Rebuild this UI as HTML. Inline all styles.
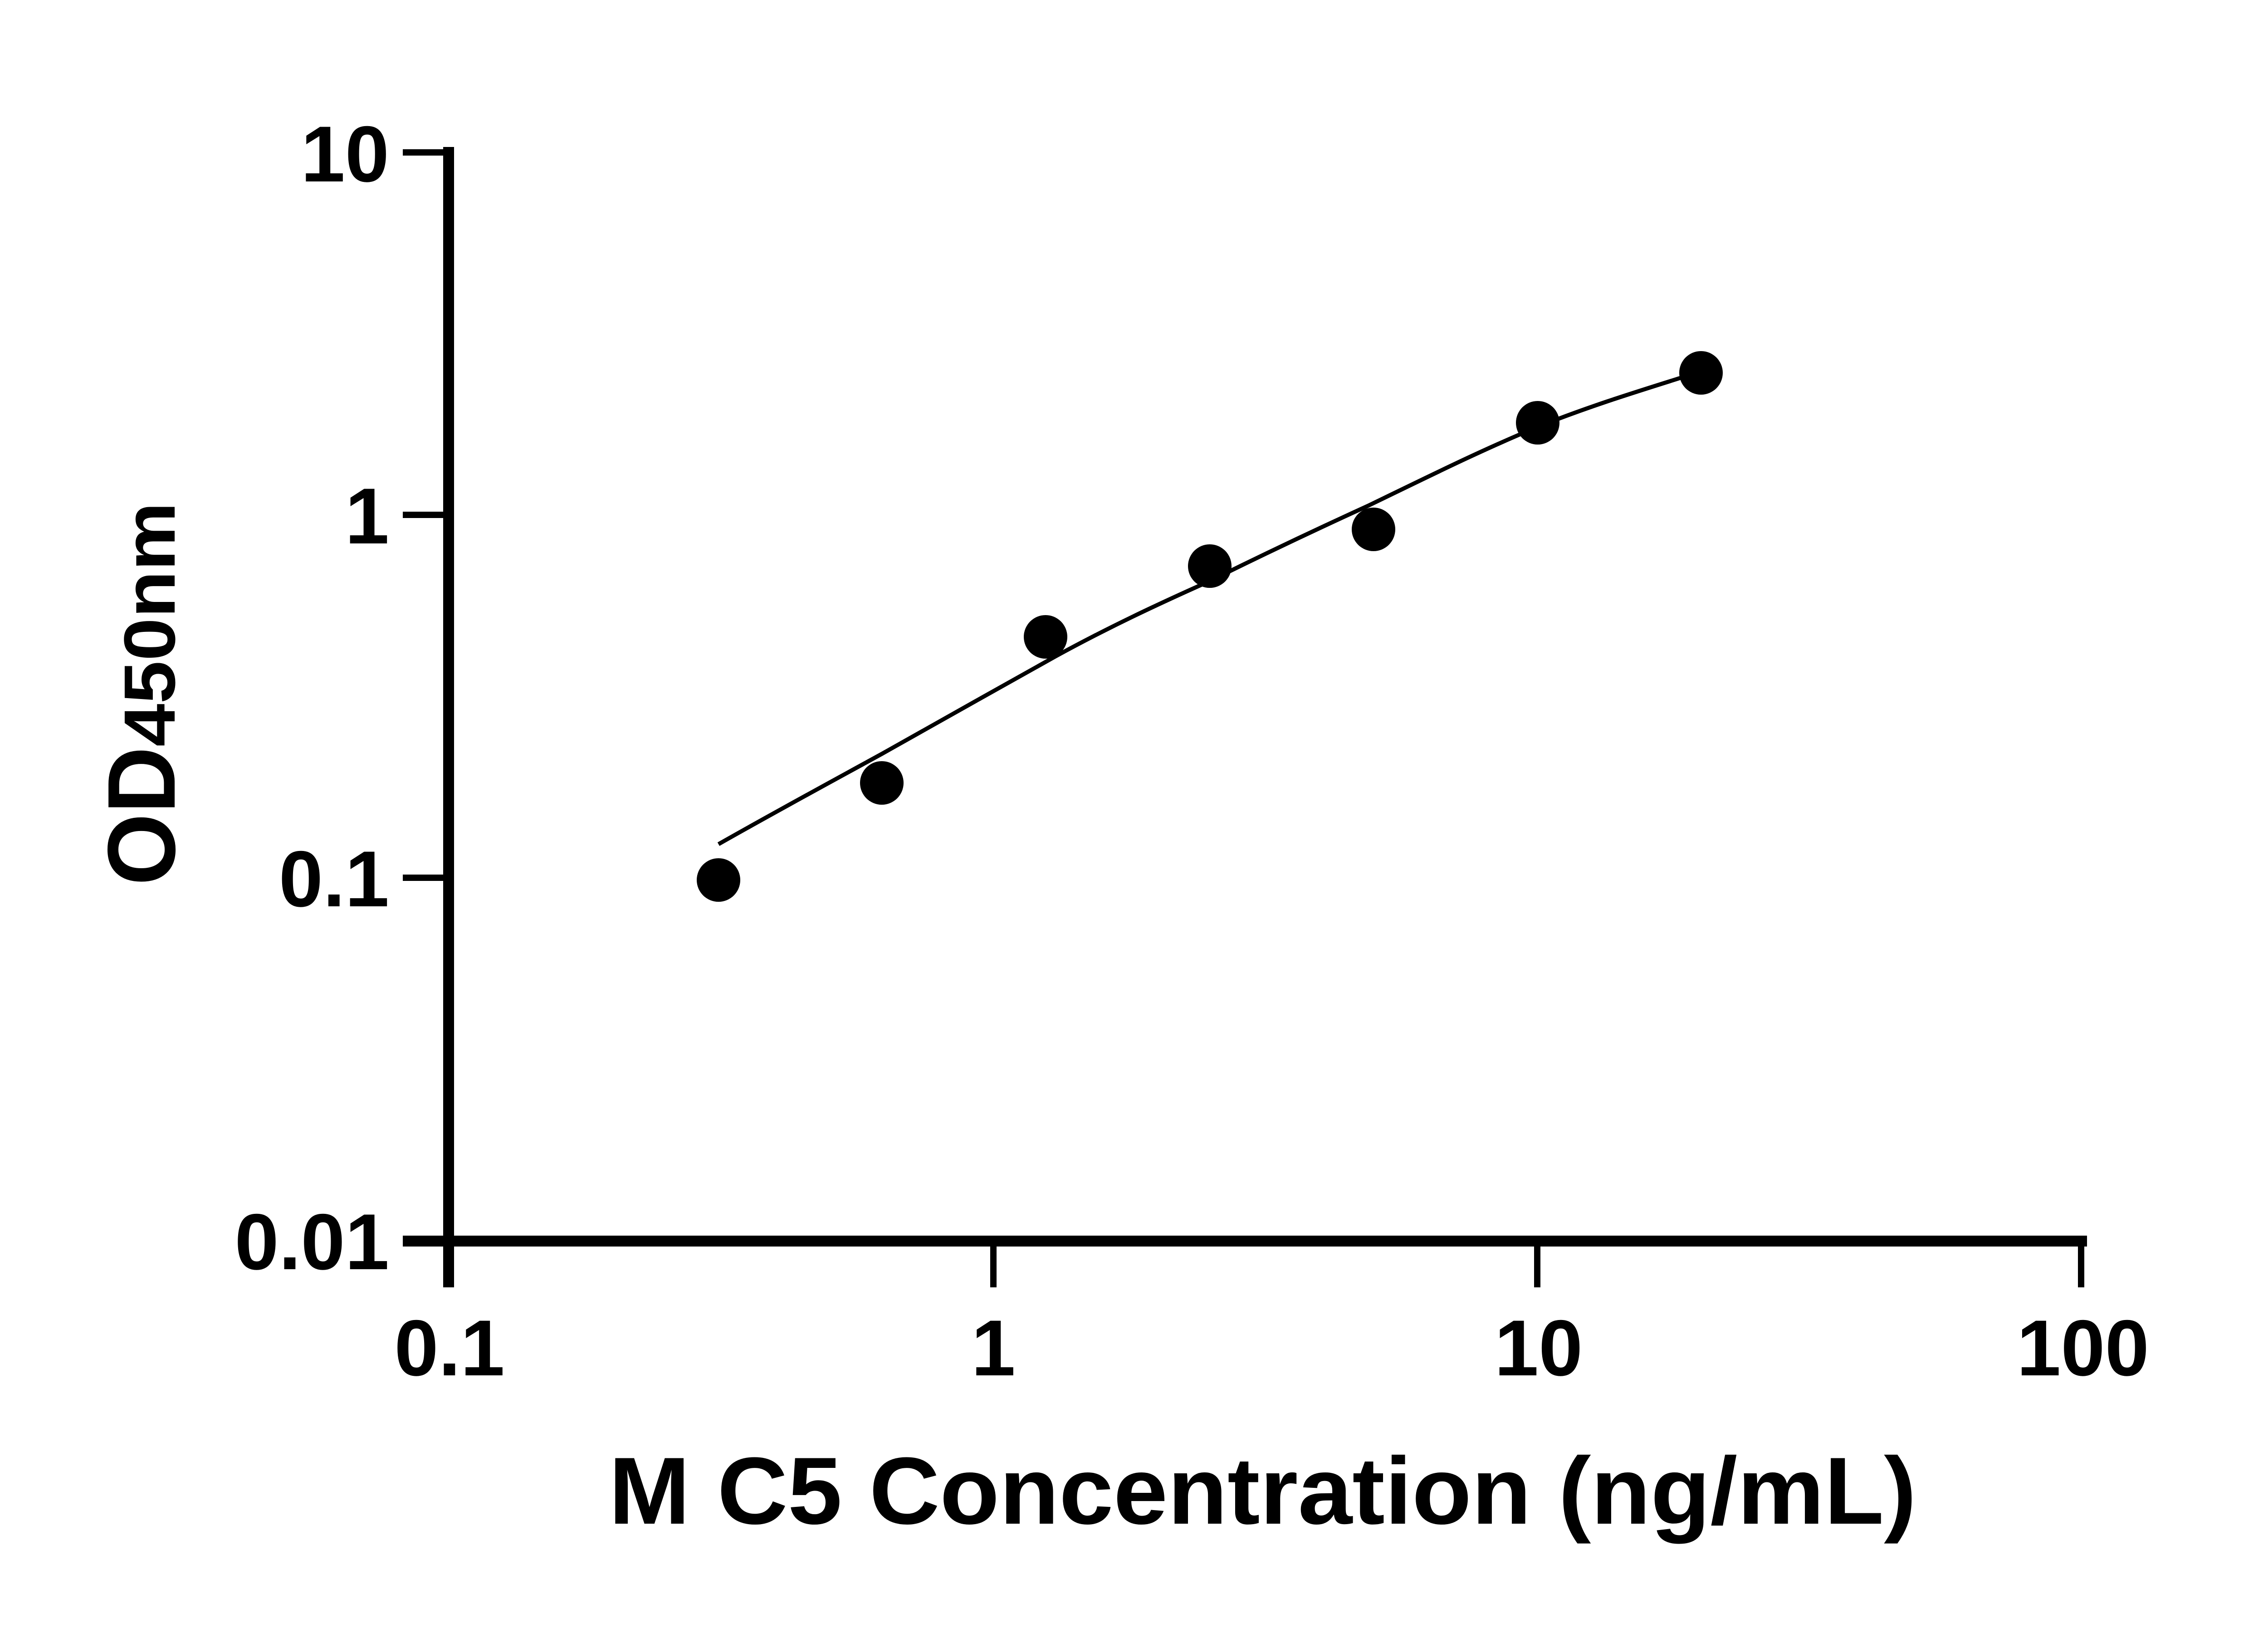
<!DOCTYPE html>
<html><head><meta charset="utf-8"><style>html,body{margin:0;padding:0;background:#fff}svg{display:block}</style></head>
<body>
<svg width="5142" height="3600" viewBox="0 0 5142 3600" xmlns="http://www.w3.org/2000/svg">
<rect width="5142" height="3600" fill="#fff"/>
<g stroke="#000" fill="none">
<line x1="989" y1="324" x2="989" y2="2838" stroke-width="24"/>
<line x1="888" y1="2736" x2="4601" y2="2736" stroke-width="24"/>
<g stroke-width="14">
<line x1="888" y1="336" x2="989" y2="336"/>
<line x1="888" y1="1135" x2="989" y2="1135"/>
<line x1="888" y1="1935" x2="989" y2="1935"/>
<line x1="888" y1="2736" x2="989" y2="2736"/>
<line x1="989" y1="2736" x2="989" y2="2838"/>
<line x1="2190" y1="2736" x2="2190" y2="2838"/>
<line x1="3389" y1="2736" x2="3389" y2="2838"/>
<line x1="4588" y1="2736" x2="4588" y2="2838"/>
</g>
<path d="M1584,1861 C1700,1795 1820,1730 1944,1662 C2070,1592 2200,1517 2327,1447 C2440,1385 2550,1333 2667,1281 C2780,1225 2900,1168 3016,1115 C3140,1055 3260,995 3390,941 C3500,897 3600,866 3705,833" stroke-width="9"/>
</g>
<g fill="#000">
<circle cx="1584" cy="1940" r="48"/>
<circle cx="1944" cy="1726" r="48"/>
<circle cx="2305" cy="1404" r="48"/>
<circle cx="2667" cy="1248" r="48"/>
<circle cx="3028" cy="1167" r="48"/>
<circle cx="3390" cy="932" r="48"/>
<circle cx="3750" cy="822" r="48"/>
</g>
<g font-family="Liberation Sans, Arial, sans-serif" font-weight="bold" font-size="175" fill="#000">
<text x="858" y="400" text-anchor="end">10</text>
<text x="858" y="1198" text-anchor="end">1</text>
<text x="858" y="1998" text-anchor="end">0.1</text>
<text x="858" y="2798" text-anchor="end">0.01</text>
<text x="991" y="3032" text-anchor="middle">0.1</text>
<text x="2190" y="3032" text-anchor="middle">1</text>
<text x="3392" y="3032" text-anchor="middle">10</text>
<text x="4592" y="3032" text-anchor="middle">100</text>
<text x="1342" y="3359" font-size="210" textLength="2883" lengthAdjust="spacingAndGlyphs">M C5 Concentration (ng/mL)</text>
<g transform="translate(385,1952) rotate(-90)">
<text x="0" y="0" font-size="212" textLength="306" lengthAdjust="spacingAndGlyphs">OD</text>
<text x="306" y="0" font-size="160" textLength="539" lengthAdjust="spacingAndGlyphs">450nm</text>
</g>
</g>
</svg>
</body></html>
